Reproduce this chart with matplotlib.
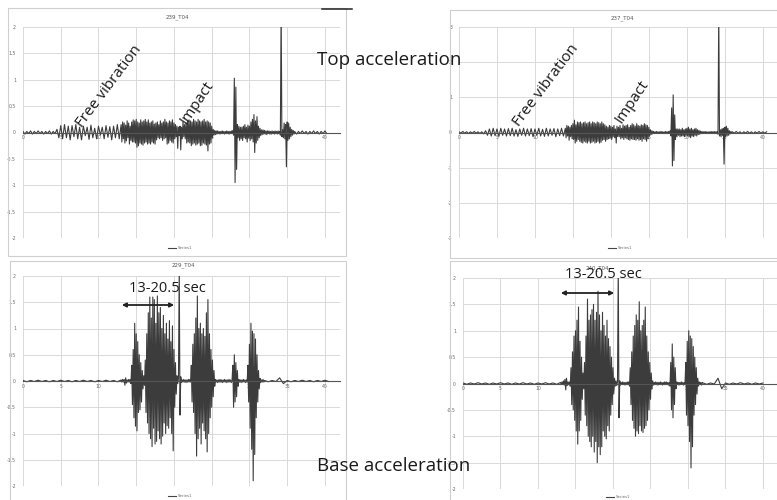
import numpy as np
import matplotlib.pyplot as plt
from matplotlib.patches import Rectangle, FancyArrowPatch
from matplotlib.lines import Line2D

W, H = 777, 500

# ---- 239_T04 (top acceleration, left) ----
a239_pre = [0.02, -0.03, 0.02, -0.02, 0.03, -0.03, 0.02, -0.02, 0.03, -0.02,
            0.02, -0.03, 0.02, -0.02, 0.03, -0.03, 0.02, -0.02]            # t 0, step .25
a239_free = [0.06, -0.1, 0.13, -0.12, 0.15, -0.1, 0.12, -0.14, 0.13, -0.08,
             0.15, -0.12, 0.1, -0.14, 0.12, -0.06, 0.1, -0.13, 0.14, -0.1,
             0.08, -0.12, 0.12, -0.05, 0.1, -0.12, 0.13, -0.09, 0.11, -0.14,
             0.12, -0.1, 0.15, -0.12]                                       # t 4.5, step .25
a239_mid = [0.15, -0.18, 0.2, -0.12, 0.18, -0.2, 0.14, -0.16, 0.22, -0.1,
            0.18, -0.22, 0.12, -0.15, 0.2, -0.18, 0.24, -0.18, 0.22, -0.2,
            0.25, -0.28, 0.2, -0.25, 0.18, -0.2, 0.24, -0.22, 0.2, -0.24,
            0.22, -0.2, 0.25, -0.18, 0.2, -0.22, 0.24, -0.2, 0.18, -0.22,
            0.2, -0.18, 0.22, -0.2, 0.16, -0.22, 0.18, -0.14, 0.2, -0.1,
            0.15, -0.12, 0.22, -0.1, 0.18, -0.15, 0.2, -0.12, 0.25, -0.1,
            0.2, -0.22, 0.18, -0.2, 0.22, -0.15, 0.2, -0.18, 0.24, -0.2,
            0.18, -0.12, 0.15, -0.08, 0.12, -0.3, 0.1, -0.06, 0.12, -0.33,
            0.1, -0.12, 0.2, -0.08, 0.15, -0.12, 0.18, -0.2, 0.22, -0.18,
            0.24, -0.2, 0.22, -0.25, 0.2, -0.22, 0.25, -0.2, 0.22, -0.24,
            0.2, -0.22, 0.25, -0.2, 0.22, -0.25, 0.2, -0.24, 0.22, -0.2,
            0.25, -0.22, 0.2, -0.24, 0.22, -0.35, 0.2, -0.22, 0.18, -0.2,
            0.12, -0.1, 0.06, -0.05, 0.04, -0.04, 0.03, -0.03, 0.03, -0.02,
            0.02, -0.03, 0.02, -0.02, 0.03, -0.02, 0.02, -0.03, 0.02, -0.02,
            0.03, -0.02, 0.02, -0.03, 0.02, -0.02, 0.03, -0.02, 0.04, -0.05,
            1.03, -0.95, 0.86, -0.7, 0.15, -0.1, 0.12, -0.15, 0.1, -0.12,
            0.1, -0.15, 0.12, -0.1, 0.15, -0.12, 0.1, -0.18, 0.14, -0.1,
            0.12, -0.15, 0.2, -0.12, 0.25, -0.18, 0.34, -0.38, 0.22, -0.2,
            0.3, -0.15, 0.12, -0.1, 0.08, -0.06, 0.05, -0.04, 0.05, -0.03,
            0.04, -0.03, 0.03, -0.04, 0.03, -0.02, 0.03, -0.03, 0.02, -0.03,
            0.03, -0.02, 0.02, -0.03, 0.03, -0.02, 0.02, -0.03, 0.03, -0.02,
            0.02, -0.05, 2.4, -0.08, 0.05, -0.1, 0.18, -0.12, 0.15, -0.65,
            0.2, -0.15, 0.18, -0.12, 0.1, -0.08, 0.06, -0.05, 0.04, -0.03]  # t 13, step .1
a239_post = [0.02, -0.03, 0.02, -0.02, 0.03, -0.02, 0.02, -0.03, 0.02, -0.02,
             0.03, -0.02, 0.02, -0.03, 0.02, -0.02, 0.03, -0.02]           # t 36, step .25

# ---- 237_T04 (top acceleration, right) ----
a237_pre = [0.02, -0.02, 0.03, -0.02, 0.02, -0.03, 0.02, -0.02, 0.03, -0.02,
            0.02, -0.03, 0.02, -0.04]                                       # t 0, step .25
a237_free = [0.05, -0.08, 0.1, -0.1, 0.12, -0.09, 0.1, -0.11, 0.12, -0.08,
             0.1, -0.1, 0.11, -0.09, 0.12, -0.1, 0.08, -0.11, 0.1, -0.08,
             0.12, -0.1, 0.1, -0.09, 0.11, -0.12, 0.1, -0.08, 0.12, -0.1,
             0.09, -0.11, 0.12, -0.1, 0.1, -0.08, 0.11, -0.12, 0.1, -0.09,
             0.12, -0.1]                                                    # t 3.5, step .25
a237_mid = [0.12, -0.15, 0.2, -0.1, 0.18, -0.22, 0.15, -0.12, 0.2, -0.18,
            0.25, -0.2, 0.35, -0.3, 0.22, -0.25, 0.3, -0.2, 0.28, -0.25,
            0.3, -0.28, 0.25, -0.3, 0.28, -0.25, 0.3, -0.28, 0.25, -0.3,
            0.28, -0.25, 0.3, -0.3, 0.25, -0.28, 0.3, -0.25, 0.28, -0.3,
            0.25, -0.28, 0.3, -0.25, 0.28, -0.3, 0.25, -0.28, 0.3, -0.22,
            0.25, -0.2, 0.22, -0.25, 0.18, -0.2, 0.15, -0.18, 0.2, -0.15,
            0.18, -0.2, 0.15, -0.12, 0.2, -0.15, 0.1, -0.3, 0.18, -0.12,
            0.15, -0.12, 0.2, -0.18, 0.12, -0.15, 0.22, -0.2, 0.18, -0.15,
            0.2, -0.18, 0.22, -0.2, 0.15, -0.22, 0.2, -0.18, 0.25, -0.2,
            0.22, -0.2, 0.18, -0.22, 0.25, -0.18, 0.2, -0.22, 0.18, -0.2,
            0.22, -0.25, 0.2, -0.18, 0.25, -0.2, 0.22, -0.25, 0.2, -0.18,
            0.15, -0.1, 0.08, -0.06, 0.05, -0.04, 0.03, -0.03, 0.02, -0.02,
            0.03, -0.02, 0.02, -0.03, 0.02, -0.02, 0.03, -0.02, 0.02, -0.03,
            0.02, -0.03, 0.03, -0.02, 0.02, -0.02, 0.03, -0.03, 0.05, -0.1,
            0.7, -0.95, 1.07, -0.8, 0.5, -0.2, 0.1, -0.12, 0.1, -0.08,
            0.1, -0.12, 0.08, -0.1, 0.12, -0.1, 0.08, -0.12, 0.1, -0.08,
            0.12, -0.1, 0.15, -0.12, 0.1, -0.15, 0.12, -0.1, 0.08, -0.12,
            0.1, -0.08, 0.12, -0.1, 0.08, -0.06, 0.06, -0.05, 0.04, -0.03,
            0.03, -0.03, 0.02, -0.02, 0.03, -0.02, 0.02, -0.03, 0.02, -0.02,
            0.02, -0.03, 0.03, -0.02, 0.02, -0.02, 0.03, -0.02, 0.02, -0.03,
            0.03, -0.05, 3.4, -0.1, 0.08, -0.12, 0.1, -0.08, 0.12, -0.9,
            0.15, -0.12, 0.18, -0.1, 0.12, -0.08, 0.05, -0.04, 0.03, -0.02]  # t 14, step .1
a237_post = [0.02, -0.02, 0.03, -0.02, 0.02, -0.03, 0.02, -0.02, 0.03, -0.02,
             0.02, -0.03, 0.02, -0.02, 0.03, -0.02, 0.02, -0.02, 0.02]     # t 36, step .25

# ---- 229_T04 (base acceleration, left) ----
a229_pre = [0.01, -0.015, 0.01, -0.01, 0.015, -0.01, 0.01, -0.015, 0.01, -0.01,
            0.015, -0.01, 0.01, -0.015, 0.01, -0.01, 0.015, -0.01, 0.01, -0.015,
            0.01, -0.01, 0.015, -0.01, 0.01, -0.015]                        # t 0, step .5
a229_mid = [0.02, -0.02, 0.03, -0.02, 0.03, -0.08, 0.06, -0.04, 0.02, -0.02,
            0.03, -0.02, 0.03, -0.05, 0.3, -0.45, 0.6, -0.7, 1.1, -0.86,
            0.9, -0.95, 0.75, -0.6, 0.5, -0.55, 0.35, -0.4, 0.2, -0.15,
            0.1, -0.08, 0.4, -0.6, 0.9, -0.8, 1.3, -1.0, 1.6, -1.1,
            1.2, -1.25, 1.6, -0.9, 1.55, -1.2, 1.1, -1.15, 1.62, -0.95,
            1.3, -1.1, 1.4, -1.2, 1.0, -1.05, 1.25, -0.8, 0.9, -1.0,
            1.1, -0.85, 0.8, -0.9, 1.15, -0.7, 0.75, -1.0, 1.05, -1.33,
            0.6, -0.5, 0.35, -0.25, 0.1, -0.05, 0.05, 2.2, -0.65, 0.08,
            -0.03, 0.02, -0.02, 0.03, -0.02, 0.02, -0.03, 0.02, -0.02, 0.03,
            -0.02, 0.03, -0.02, 0.3, -0.4, 0.7, -0.6, 0.9, -1.0, 1.2,
            -1.43, 1.62, -1.1, 1.0, -0.9, 1.1, -1.2, 0.9, -0.8, 1.0,
            -0.95, 0.85, -1.1, 1.3, -1.35, 1.55, -1.0, 0.9, -0.7, 0.6,
            -0.5, 0.4, -0.3, 0.2, -0.1, 0.03, -0.02, 0.02, -0.03, 0.02,
            -0.02, 0.03, -0.02, 0.02, -0.03, 0.02, -0.02, 0.03, -0.02, 0.02,
            -0.03, 0.02, -0.02, 0.03, -0.02, 0.02, -0.03, 0.02, 0.3, -0.5,
            0.5, -0.4, 0.35, -0.3, 0.2, -0.1, 0.03, -0.02, 0.02, -0.03,
            0.02, -0.02, 0.03, -0.02, 0.02, -0.03, 0.02, -0.02, 0.3, -0.4,
            0.7, -0.9, 1.1, -1.3, 0.95, -1.9, 0.9, -1.4, 0.8, -0.7,
            0.5, -0.4, 0.2, -0.15, 0.05, -0.03, 0.02, -0.02, 0.03, -0.02]   # t 13, step .1
a229_post = [0.01, -0.015, 0.01, -0.01, 0.06, -0.05, 0.01, -0.015, 0.01, -0.01,
             0.015, -0.01, 0.01, -0.015, 0.01, -0.01, 0.015, -0.01]        # t 32, step .5

# ---- 240_T04 (base acceleration, right) ----
a240_pre = [0.01, -0.015, 0.01, -0.01, 0.015, -0.01, 0.01, -0.015, 0.01, -0.01,
            0.015, -0.01, 0.01, -0.015, 0.01, -0.01, 0.015, -0.01, 0.01, -0.015,
            0.01, -0.01, 0.015, -0.01, 0.01, -0.015]                        # t 0, step .5
a240_mid = [0.02, -0.02, 0.03, -0.02, 0.05, -0.03, 0.08, -0.12, 0.1, -0.04,
            0.03, -0.02, 0.03, -0.05, 0.3, -0.4, 0.6, -0.5, 0.9, -0.7,
            1.0, -0.9, 1.2, -1.15, 1.45, -0.9, 0.8, -0.7, 0.5, -0.3,
            0.2, -0.1, 0.4, -0.6, 0.9, -0.8, 1.6, -1.0, 1.2, -1.1,
            1.3, -1.2, 1.4, -1.0, 1.5, -1.3, 1.2, -1.1, 1.35, -1.5,
            1.75, -1.2, 1.3, -1.35, 1.0, -1.2, 1.35, -0.9, 1.1, -1.0,
            0.9, -1.05, 1.2, -0.8, 0.85, -0.9, 0.7, -0.6, 0.5, -0.4,
            0.3, -0.2, 0.1, -0.05, 0.05, -0.04, 0.03, 2.2, -0.65, 0.05,
            -0.03, 0.02, -0.02, 0.03, -0.02, 0.02, -0.03, 0.02, -0.02, 0.03,
            -0.02, 0.03, -0.05, 0.3, -0.4, 0.6, -0.7, 0.9, -0.85, 1.1,
            -1.0, 1.3, -0.9, 1.2, -0.95, 1.55, -0.8, 1.0, -0.9, 1.1,
            -0.93, 1.2, -0.85, 1.45, -0.8, 0.9, -0.7, 0.6, -0.5, 0.4,
            -0.3, 0.2, -0.1, 0.05, -0.03, 0.02, -0.02, 0.03, -0.02, 0.02,
            -0.03, 0.02, -0.02, 0.03, -0.02, 0.02, -0.03, 0.02, -0.02, 0.03,
            -0.02, 0.03, -0.02, 0.02, -0.03, 0.02, -0.05, 0.4, -0.5, 0.75,
            -0.65, 0.5, -0.4, 0.3, -0.1, 0.03, -0.02, 0.02, -0.03, 0.02,
            -0.02, 0.03, -0.02, 0.02, -0.03, 0.02, -0.02, 0.4, -0.6, 0.8,
            -0.8, 1.0, -1.1, 0.9, -1.6, 0.85, -1.2, 0.7, -0.6, 0.5,
            -0.4, 0.3, -0.2, 0.1, -0.05, 0.03, -0.02, 0.02, -0.03, 0.02]    # t 13, step .1
a240_post = [0.01, -0.015, 0.01, -0.01, 0.1, -0.1, 0.01, -0.015, 0.01, -0.01,
             0.015, -0.01, 0.01, -0.015, 0.01, -0.01, 0.01]                # t 32, step .5

xticks = [0, 5, 10, 15, 20, 25, 30, 35, 40]


def build(segs):
    t, a = [], []
    for t0, dt, vals in segs:
        t.extend(t0 + dt * np.arange(len(vals)))
        a.extend(vals)
    return np.array(t), np.array(a)


def frac(x, y):
    return x / W, 1 - y / H


fig = plt.figure(figsize=(W / 100, H / 100), dpi=100)
fig.patch.set_facecolor('white')


def frame(x0, y0, x1, y1):
    fig.add_artist(Rectangle((x0 / W, 1 - y1 / H), (x1 - x0) / W, (y1 - y0) / H,
                             transform=fig.transFigure, fill=False,
                             ec='#cfcfcf', lw=0.8))


def chart(box, t, a, ylim, ystep, title, title_xy, leg_xy):
    x0, y0, x1, y1 = box
    ax = fig.add_axes([x0 / W, 1 - y1 / H, (x1 - x0) / W, (y1 - y0) / H])
    ax.plot(t, a, color='#3c3c3c', lw=0.8)
    ax.set_xlim(0, 42)
    ax.set_ylim(-ylim, ylim)
    ax.set_xticks(xticks)
    yt = np.arange(-ylim, ylim + 0.001, ystep)
    ax.set_yticks(yt)
    ax.set_yticklabels([f'{v:g}' for v in yt])
    ax.grid(True, color='#d9d9d9', lw=0.7)
    ax.set_axisbelow(True)
    for s in ['top', 'right', 'left']:
        ax.spines[s].set_visible(False)
    ax.spines['bottom'].set_position(('data', 0))
    ax.spines['bottom'].set_color('#555555')
    ax.spines['bottom'].set_linewidth(0.8)
    ax.tick_params(length=0, labelsize=3.3, labelcolor='#6a6a6a')
    ax.tick_params(axis='y', pad=5)
    ax.tick_params(axis='x', pad=2)
    fig.text(*frac(*title_xy), title, fontsize=4, color='#555555',
             ha='center', va='center')
    lx, ly = leg_xy
    fig.add_artist(Line2D([(lx - 14) / W, (lx - 6) / W], [1 - ly / H, 1 - ly / H],
                          color='#444444', lw=0.8))
    fig.text(*frac(lx - 4, ly), 'Series1', fontsize=2.8, color='#6a6a6a',
             ha='left', va='center')
    return ax


t239, v239 = build([(0.0, 0.25, a239_pre), (4.5, 0.25, a239_free),
                    (13.0, 0.1, a239_mid), (36.0, 0.25, a239_post)])
t237, v237 = build([(0.0, 0.25, a237_pre), (3.5, 0.25, a237_free),
                    (14.0, 0.1, a237_mid), (36.0, 0.25, a237_post)])
t229, v229 = build([(0.0, 0.5, a229_pre), (13.0, 0.1, a229_mid),
                    (32.0, 0.5, a229_post)])
t240, v240 = build([(0.0, 0.5, a240_pre), (13.0, 0.1, a240_mid),
                    (32.0, 0.5, a240_post)])

frame(8, 8, 346, 256)
frame(450, 10, 790, 258)
frame(10, 261, 346, 510)
frame(450, 261, 790, 510)

chart((23, 27, 340, 238), t239, v239, 2, 0.5, '239_T04', (177, 17), (182, 248))
chart((459, 27, 778, 238), t237, v237, 3, 1, '237_T04', (622, 18), (622, 248))
chart((23, 276, 340, 486), t229, v229, 2, 0.5, '229_T04', (183, 265), (182, 496))
chart((463, 278, 778, 489), t240, v240, 2, 0.5, '240_T04', (597, 268), (620, 497))

# stray dark line at the very top
fig.add_artist(Line2D([322 / W, 352 / W], [1 - 9 / H, 1 - 9 / H], color='#222222', lw=1.1))

ann = dict(family='Open Sans', color='#1a1a1a')
fig.text(*frac(389, 60), 'Top acceleration', fontsize=13.5, ha='center', va='center', **ann)
fig.text(*frac(394, 466), 'Base acceleration', fontsize=13.5, ha='center', va='center', **ann)

for xy, txt, rot in [((109, 86), 'Free vibration', 53), ((197, 103), 'Impact', 56),
                     ((546, 85), 'Free vibration', 53), ((632, 102), 'Impact', 56)]:
    fig.text(*frac(*xy), txt, fontsize=11, rotation=rot, rotation_mode='anchor',
             ha='center', va='center', **ann)

for (tx, ty), (ax0, ax1, ay) in [((167, 289), (119, 177, 305)),
                                 ((603, 275), (558, 617, 293))]:
    fig.text(*frac(tx, ty), '13-20.5 sec', fontsize=10.5, ha='center', va='center', **ann)
    fig.add_artist(FancyArrowPatch(frac(ax0, ay), frac(ax1, ay), transform=fig.transFigure,
                                   arrowstyle='<|-|>', mutation_scale=6, lw=1.3,
                                   color='#222222'))

fig.savefig('out.png', dpi=100)
